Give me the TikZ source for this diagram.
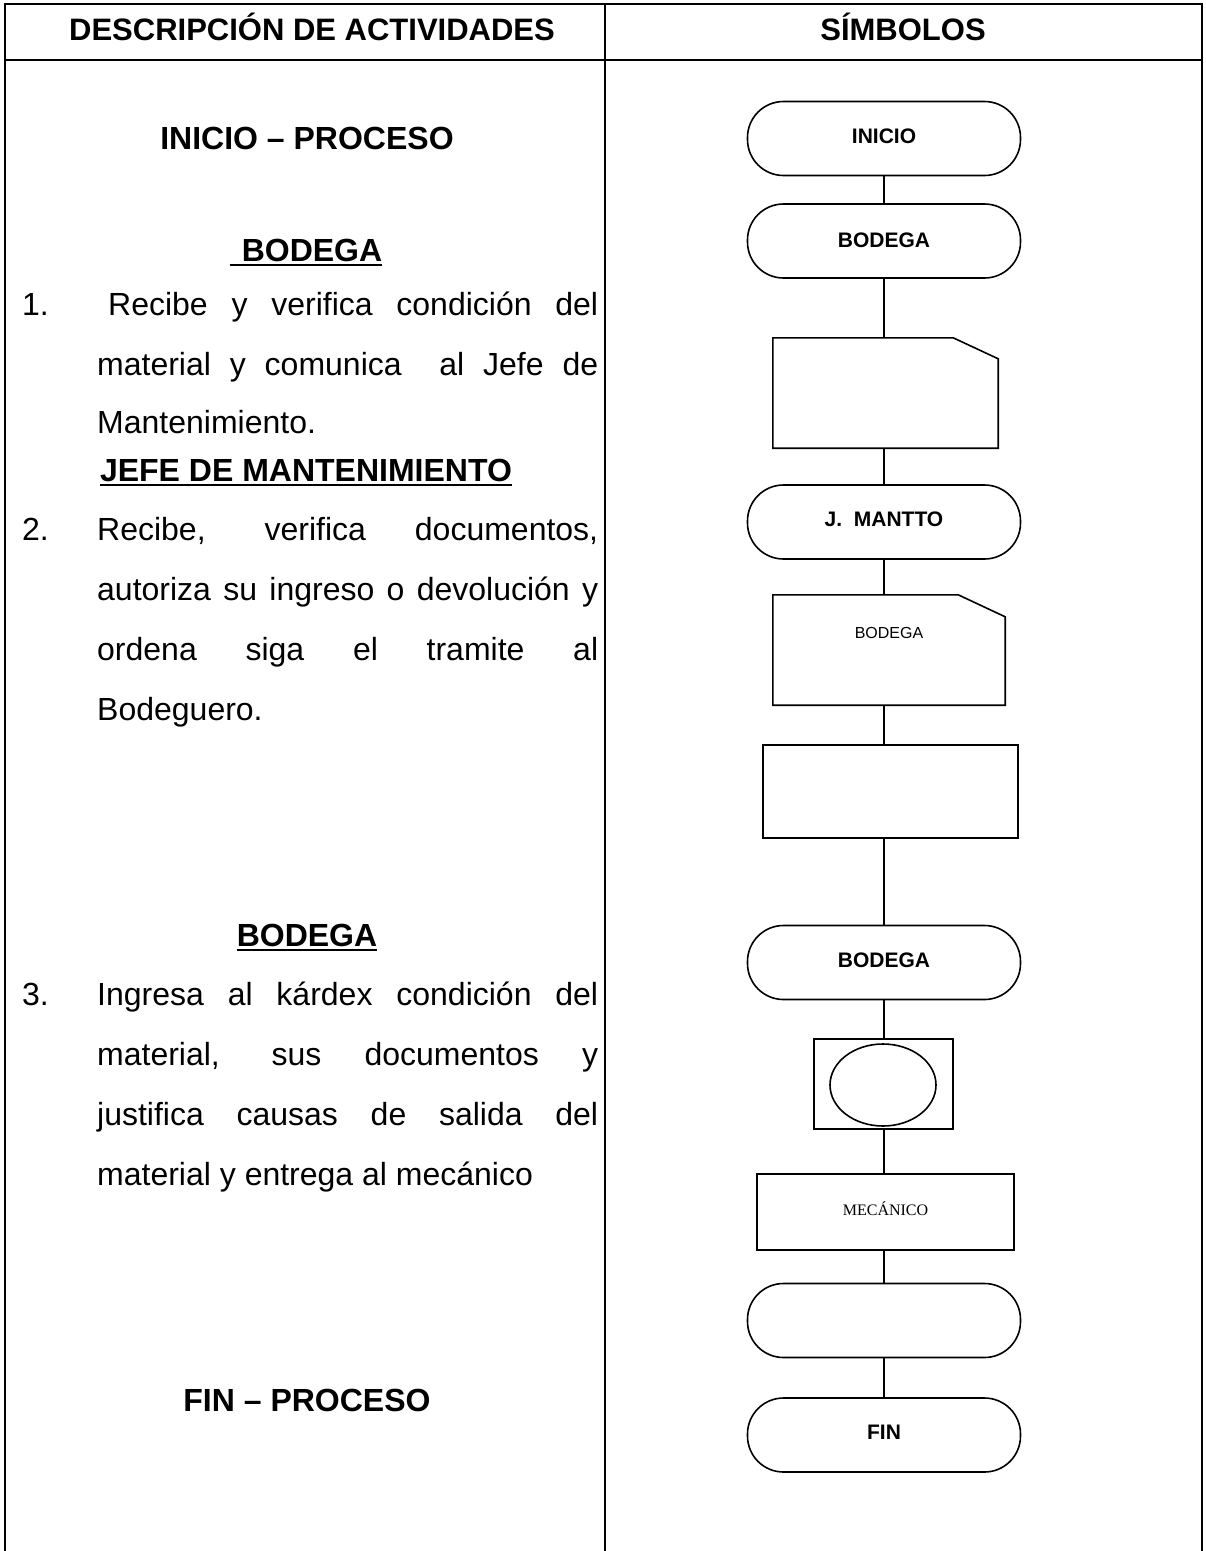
\documentclass[tikz,border=0pt]{standalone}
\usepackage{fontspec}
\setmainfont{Liberation Sans}
\newfontfamily\timesf{Liberation Serif}
\usetikzlibrary{shapes.geometric}
\begin{document}
\begin{tikzpicture}[x=1pt,y=-1pt,
  tbl/.style={line width=2pt},
  flow/.style={line width=1.6pt},
  term/.style={draw, line width=1.6pt, rounded corners=36pt, minimum width=273pt, minimum height=74pt, inner sep=0pt, font=\fontsize{21}{24}\selectfont\bfseries},
  ghost/.style={inner sep=0pt, draw=none},
  boxx/.style={draw, line width=1.6pt, inner sep=0pt},
  body/.style={anchor=base west, inner sep=0pt, font=\fontsize{32}{36}\selectfont},
  head/.style={anchor=base, inner sep=0pt, font=\fontsize{32}{36}\selectfont\bfseries},
  toprow/.style={anchor=base, inner sep=0pt, font=\fontsize{31}{36}\selectfont\bfseries},
  uline/.style={line width=2.6pt},
]
\useasboundingbox (0,0) rectangle (1206,1551);
\fill[white] (0,0) rectangle (1206,1551);

% table
\draw[tbl] (5,1551) -- (5,4) -- (1202,4) -- (1202,1551);
\draw[tbl] (605,4) -- (605,1551);
\draw[tbl] (5,60) -- (1202,60);

% headers
\node[toprow] (h1) at (312,40) {DESCRIPCIÓN DE ACTIVIDADES};
\node[toprow] (h2) at (903,40) {SÍMBOLOS};

% left column
\node[head] (s0) at (307,149) {INICIO – PROCESO};

\node[head] (s1) at (312,261) {BODEGA};
\draw[uline] ([xshift=-12pt,yshift=-4pt]s1.base west) -- ([yshift=-4pt]s1.base east);
\node[body] (n1) at (22,315) {1.};
\node[body] (l11) at (108,315) {\makebox[490pt][s]{Recibe y verifica condición del}};
\node[body] (l12) at (97,375) {\makebox[501pt][s]{material y comunica\ \ al Jefe de}};
\node[body] (l13) at (97,433) {Mantenimiento.};

\node[head] (s2) at (306,481) {JEFE DE MANTENIMIENTO};
\draw[uline] ([yshift=-4pt]s2.base west) -- ([yshift=-4pt]s2.base east);
\node[body] (n2) at (22,540) {2.};
\node[body] (l21) at (97,540) {\makebox[501pt][s]{Recibe, verifica documentos,}};
\node[body] (l22) at (97,600) {\makebox[501pt][s]{autoriza su ingreso o devolución y}};
\node[body] (l23) at (97,660) {\makebox[501pt][s]{ordena siga el tramite al}};
\node[body] (l24) at (97,720) {Bodeguero.};

\node[head] (s3) at (307,946) {BODEGA};
\draw[uline] ([yshift=-4pt]s3.base west) -- ([yshift=-4pt]s3.base east);
\node[body] (n3) at (22,1005) {3.};
\node[body] (l31) at (97,1005) {\makebox[501pt][s]{Ingresa al kárdex condición del}};
\node[body] (l32) at (97,1065) {\makebox[501pt][s]{material, sus documentos y}};
\node[body] (l33) at (97,1125) {\makebox[501pt][s]{justifica causas de salida del}};
\node[body] (l34) at (97,1185) {material y entrega al mecánico};

\node[head] (s4) at (307,1411) {FIN – PROCESO};

% flowchart
\coordinate (ax) at (884,0);
\node[term] (t1) at (884,138.5) {\raisebox{5pt}{INICIO}};
\node[term] (t2) at (884,241) {\raisebox{2pt}{BODEGA}};

\node[ghost, minimum width=225pt, minimum height=110pt] (d1) at (885.5,393) {};
\draw[flow] (d1.south west) -- (d1.north west) -- ([xshift=-45pt]d1.north east) -- ([yshift=-21pt]d1.north east) -- (d1.south east) -- cycle;

\node[term] (tj) at (884,522) {\raisebox{6pt}{J.\ \ MANTTO}};

\node[ghost, minimum width=232pt, minimum height=110pt] (d2) at (889,650) {};
\draw[flow] (d2.south west) -- (d2.north west) -- ([xshift=-47pt]d2.north east) -- ([yshift=-22pt]d2.north east) -- (d2.south east) -- cycle;
\node[inner sep=0pt, font=\fontsize{16}{19}\selectfont] (d2t) at (889,633) {BODEGA};

\node[boxx, minimum width=255pt, minimum height=93pt] (r1) at (890.5,791.5) {};

\node[term] (t3) at (884,962.5) {\raisebox{5pt}{BODEGA}};

\node[boxx, minimum width=139pt, minimum height=90pt] (e1) at (883.5,1084) {};
\node[draw, ellipse, line width=1.6pt, inner sep=0pt, minimum width=106pt, minimum height=82pt] (e2) at (883,1085) {};

\node[boxx, minimum width=257pt, minimum height=76pt, font=\timesf\fontsize{16}{19}\selectfont] (m1) at (885.5,1212) {\raisebox{6pt}{MECÁNICO}};

\node[term] (t4) at (884,1320.5) {};
\node[term] (t5) at (884,1435) {\raisebox{5pt}{FIN}};

% connectors
\draw[flow] (ax |- t1.south) -- (ax |- t2.north);
\draw[flow] (ax |- t2.south) -- (ax |- d1.north);
\draw[flow] (ax |- d1.south) -- (ax |- tj.north);
\draw[flow] (ax |- tj.south) -- (ax |- d2.north);
\draw[flow] (ax |- d2.south) -- (ax |- r1.north);
\draw[flow] (ax |- r1.south) -- (ax |- t3.north);
\draw[flow] (ax |- t3.south) -- (ax |- e1.north);
\draw[flow] (ax |- e1.south) -- (ax |- m1.north);
\draw[flow] (ax |- m1.south) -- (ax |- t4.north);
\draw[flow] (ax |- t4.south) -- (ax |- t5.north);
\end{tikzpicture}
\end{document}
